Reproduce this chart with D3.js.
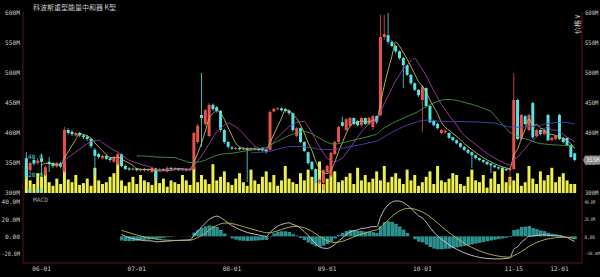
<!DOCTYPE html>
<html><head><meta charset="utf-8">
<script src="https://cdn.jsdelivr.net/npm/d3@7"></script>
<style>body{margin:0;background:#000;overflow:hidden}svg{display:block}</style>
</head><body><svg id="c" width="600" height="277"></svg>
<script>
const title = "科波斯重型能量中和器 K型";
// [open, close, high, low] in M
const ohlc = [
[358,327,368,322],[338,350,353,335],[355,349,358,346],[350,354,357,347],[358,352,366,328],
[330,343,346,328],[352,348,360,335],[350,345,352,342],[344,350,352,342],[350,344,352,341],
[336,405,410,334],[405,400,408,397],[402,398,405,395],[396,400,402,394],[400,396,402,393],
[396,393,398,390],[394,390,396,387],[390,378,392,375],[372,362,375,328],[365,360,367,357],
[358,362,364,356],[362,357,364,355],[358,355,360,352],[352,360,362,350],[348,365,367,346],
[365,345,366,343],[345,340,347,338],[341,339,343,337],[339,341,343,337],[341,338,342,336],
[338,340,341,336],[340,338,342,336],[338,339,341,336],[335,342,343,333],[341,325,342,318],
[338,340,342,336],[340,339,341,337],[336,342,344,334],[342,340,343,338],[340,341,343,338],
[341,339,342,337],[339,340,342,337],[340,338,341,336],[338,340,342,336],[340,400,402,338],
[385,412,415,382],[430,425,500,377],[415,438,440,412],[395,447,450,393],[447,440,449,437],
[443,437,445,434],[437,405,438,402],[405,385,407,382],[385,377,387,374],[376,374,378,372],
[374,375,377,372],[375,373,377,371],[373,374,376,371],[374,372,376,318],[372,374,376,370],
[374,373,376,371],[373,372,375,370],[375,371,376,369],[372,369,374,366],[372,435,438,370],
[436,440,442,434],[440,441,443,438],[441,438,443,436],[440,437,442,434],[437,433,439,430],
[433,405,434,402],[395,408,410,393],[408,385,409,383],[385,370,386,368],[368,350,369,347],
[352,340,353,337],[340,318,341,316],[318,322,324,315],[317,338,340,305],[335,345,347,333],
[328,367,369,326],[365,385,387,363],[385,410,412,383],[418,412,427,410],[405,423,425,403],
[412,425,427,410],[425,415,426,413],[420,413,422,411],[413,425,427,411],[425,415,426,413],
[415,425,427,413],[410,428,430,405],[428,418,429,415],[430,560,597,428],[560,565,597,555],
[563,552,600,548],[552,545,555,543],[545,536,547,533],[536,525,538,522],[525,513,527,475],
[513,497,514,495],[497,483,498,480],[483,472,484,470],[472,463,473,460],[455,477,480,402],
[475,445,476,443],[445,418,446,416],[420,413,422,411],[415,408,417,406],[400,405,407,398],
[401,404,406,399],[400,392,401,390],[393,388,394,386],[388,383,389,381],[383,377,384,375],
[377,372,378,370],[372,367,373,365],[368,363,369,342],[363,358,364,356],[358,355,359,353],
[355,352,356,350],[352,348,353,346],[349,346,350,333],[346,343,347,341],[343,341,344,339],
[342,340,343,338],[340,338,341,336],[338,341,343,313],[340,455,500,338],[455,390,457,388],
[390,430,432,388],[428,415,430,413],[405,430,432,403],[450,393,452,390],[395,405,407,393],
[405,398,406,396],[398,405,407,396],[430,388,432,386],[388,392,394,386],[390,395,397,388],
[430,390,432,388],[392,385,394,383],[392,380,393,378],[380,360,381,358],[366,355,367,353]];
const volume = [30,14,10,22,18,25,12,8,16,10, 34,15,12,20,9,11,16,8,28,14,
 10,12,18,22,36,14,8,12,18,10, 20,14,12,9,24,11,16,7,14,12,
 10,20,14,9,28,12,20,15,10,32, 14,18,24,12,9,16,22,12,8,26,
 14,10,18,24,12,20,8,14,30,16, 12,10,22,14,26,18,12,35,10,16,
 20,24,12,14,18,22,10,28,14,20, 12,16,24,14,30,12,18,22,16,10,
 26,14,20,8,12,18,24,10,30,14, 12,16,22,20,10,8,18,26,14,12,
 20,6,16,24,10,28,12,18,14,22, 8,12,30,16,10,24,14,20,28,12,
 18,22,14,10,10];
const tickIdx    = [4,29,54,79,104,128,140];
const tickLabels = ["06-01","07-01","08-01","09-01","10-01","11-15","12-01"];
const priceTicks = [300,350,400,450,500,550,600];
const volTicks   = [0,20,40];
const macdTicks  = [-20,0,20,40];
const maPeriods  = [5,10,30,60];
const maColors   = ["#bdbd62","#a43fa8","#3f9a3f","#4b45b8"];

const open=ohlc.map(d=>d[0]), close=ohlc.map(d=>d[1]), high=ohlc.map(d=>d[2]), low=ohlc.map(d=>d[3]);
const N = close.length;
const svg = d3.select("#c");
const W=600,H=277, L=23, R=582;
svg.append("rect").attr("width",W).attr("height",H).attr("fill","#000");

const x = d3.scaleBand().domain(d3.range(N)).range([L+1,R-5]).padding(0.22);
const xc = i => x(i)+x.bandwidth()/2;
const y = d3.scaleLinear().domain([300,600]).range([193,13]);
const yv = d3.scaleLinear().domain([0,40]).range([193,157]);
const ym = d3.scaleLinear().domain([-20,40]).range([253.5,202]);

const fmtM = v => v+"M";
const fmtMacd = v => v===0?"0.00":(v<0?"-":"")+Math.abs(v).toFixed(1)+"M";
const font = "'DejaVu Sans Mono', monospace";
const FS = 6.2;

const axc = "#5c1414";
svg.append("line").attr("x1",L).attr("x2",L).attr("y1",12).attr("y2",263).attr("stroke",axc);
svg.append("line").attr("x1",R).attr("x2",R).attr("y1",12).attr("y2",263).attr("stroke",axc);
svg.append("line").attr("x1",L).attr("x2",R).attr("y1",263).attr("y2",263).attr("stroke",axc);

function styleAxis(g, avail, fs){
  g.select(".domain").remove();
  g.selectAll("text").attr("fill","#c8c8c8").attr("font-family",font).attr("font-size",fs||FS);
  g.selectAll("text").each(function(){
    const w=this.getComputedTextLength();
    if(w>avail){ d3.select(this).attr("textLength",avail).attr("lengthAdjust","spacingAndGlyphs"); }
  });
}
styleAxis(svg.append("g").attr("transform",`translate(${L},0)`)
  .call(d3.axisLeft(y).tickValues(priceTicks).tickFormat(fmtM).tickSize(0).tickPadding(3)), L-4.5);
styleAxis(svg.append("g").attr("transform",`translate(${R},0)`)
  .call(d3.axisRight(y).tickValues(priceTicks).tickFormat(fmtM).tickSize(0).tickPadding(3)), 600-R-4.5);
styleAxis(svg.append("g").attr("transform",`translate(${L},0)`)
  .call(d3.axisLeft(ym).tickValues(macdTicks).tickFormat(fmtMacd).tickSize(0).tickPadding(3)), L-4.5);
const gmr = svg.append("g").attr("transform",`translate(${R},0)`)
  .call(d3.axisRight(ym).tickValues(macdTicks).tickFormat(fmtMacd).tickSize(0).tickPadding(2.5));
styleAxis(gmr, 600-R-7.5, 5.2);
gmr.selectAll(".tick").filter(d=>d<0).select("text").attr("font-size",4.4).attr("textLength",null).attr("lengthAdjust",null);

// x axis
const gx = svg.append("g").attr("transform","translate(0,263)")
  .call(d3.axisBottom(x).tickValues(tickIdx).tickFormat((d,k)=>tickLabels[k]).tickSize(0).tickPadding(4));
gx.select(".domain").remove();
gx.selectAll("text").attr("fill","#c8c8c8").attr("font-family",font).attr("font-size",FS);

// volume bars
svg.append("g").selectAll("rect").data(volume).join("rect")
  .attr("x",(d,i)=>x(i)).attr("width",x.bandwidth())
  .attr("y",d=>yv(d)).attr("height",d=>yv(0)-yv(d)).attr("fill","#eeee4c");

// candles
const up="#e9524c", dn="#55e3e3";
const cg = svg.append("g");
d3.range(N).forEach(i=>{
  const c = close[i]>=open[i]?up:dn;
  cg.append("line").attr("x1",xc(i)).attr("x2",xc(i)).attr("y1",y(high[i])).attr("y2",y(low[i])).attr("stroke",c).attr("stroke-width",0.8);
  const t=y(Math.max(open[i],close[i])), b=y(Math.min(open[i],close[i]));
  cg.append("rect").attr("x",x(i)).attr("width",x.bandwidth()).attr("y",t).attr("height",Math.max(1,b-t)).attr("fill",c);
});

// volume axis labels (inside, on top of bars)
const gv = svg.append("g").attr("transform",`translate(${L+4},0)`)
  .call(d3.axisRight(yv).tickValues(volTicks).tickFormat(v=>v===0?"0.00":d3.format(".1f")(v)).tickSize(0).tickPadding(1));
gv.select(".domain").remove();
gv.selectAll("text").attr("fill","#4fd8d8").attr("font-family",font).attr("font-size",FS);
gv.selectAll(".tick").filter(d=>d===0).select("text").attr("dy","-0.15em");

// moving averages
maPeriods.forEach((p,k)=>{
  const ma = close.map((v,i)=> i<p-1?null:d3.mean(close.slice(i-p+1,i+1)));
  svg.append("path").datum(ma.map((v,i)=>[i,v]))
    .attr("d",d3.line().defined(d=>d[1]!==null).x(d=>xc(d[0])).y(d=>y(d[1])).curve(d3.curveMonotoneX))
    .attr("fill","none").attr("stroke",maColors[k]).attr("stroke-width",0.9);
});

// MACD
function ema(arr,n){const a=2/(n+1);let out=[];arr.forEach((v,i)=>out.push(i===0?v:a*v+(1-a)*out[i-1]));return out;}
const e12=ema(close,12), e26=ema(close,26);
const dif=close.map((v,i)=>e12[i]-e26[i]);
const dea=ema(dif,9);
const start=25;
const idx=d3.range(start,N);
svg.append("g").selectAll("rect").data(idx).join("rect")
  .attr("x",i=>x(i)).attr("width",x.bandwidth()+0.6)
  .attr("y",i=>Math.min(ym(0),ym(dif[i]-dea[i]))).attr("height",i=>Math.abs(ym(dif[i]-dea[i])-ym(0)))
  .attr("fill","#2c9090");
[[dif,"#d0d0d0"],[dea,"#b9b95a"]].forEach(([s,col])=>{
  svg.append("path").datum(idx).attr("d",d3.line().x(i=>xc(i)).y(i=>ym(s[i])).curve(d3.curveMonotoneX))
    .attr("fill","none").attr("stroke",col).attr("stroke-width",0.9);
});

// labels
svg.append("text").attr("x",33).attr("y",10).text(title).attr("fill","#c8c8c8").attr("font-size",7).attr("font-family","'Noto Sans CJK SC',sans-serif");
svg.append("text").attr("x",33).attr("y",202).text("MACD").attr("fill","#a0a0a0").attr("font-size",FS).attr("font-family",font);
svg.append("text").attr("transform","translate(580,34) rotate(-90)").text("价格 ¥").attr("fill","#c8c8c8").attr("font-size",7).attr("font-family","'Noto Sans CJK SC',sans-serif");
// last price tag
const lp=close[N-1], ly=y(lp);
svg.append("path").attr("d",`M${R+1},${ly} L${R+3},${ly-4.5} L600,${ly-4.5} L600,${ly+4.5} L${R+3},${ly+4.5}Z`).attr("fill","#8a8a8a");
svg.append("text").attr("x",R+4).attr("y",ly+2.3).text(lp+"M").attr("fill","#f4f4f4").attr("font-size",FS).attr("font-family",font)
  .attr("textLength",600-R-4.5).attr("lengthAdjust","spacingAndGlyphs");
</script></body></html>
